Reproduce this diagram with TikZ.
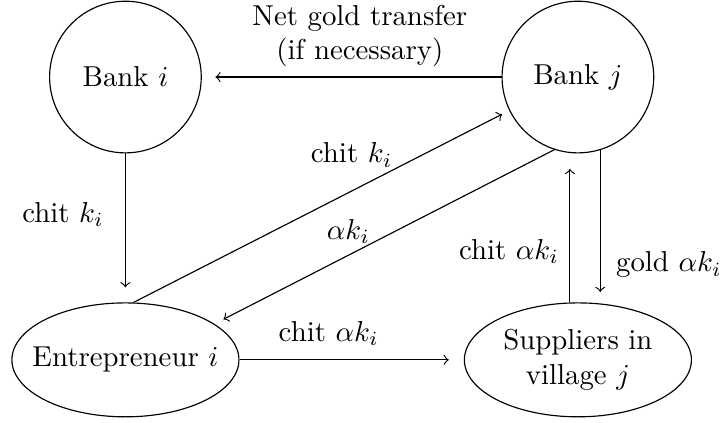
\documentclass[tikz,border=0pt]{standalone}
\usepackage{tikz}
\usetikzlibrary{shapes.geometric}

\begin{document}
\begin{tikzpicture}[bank/.style={circle,draw,minimum size=1.85cm},
                    agent/.style={ellipse,draw,align=center,inner xsep=-4.5pt,minimum width=2.77cm,minimum height=1.39cm},
                    flow/.style={->,shorten >=5pt}]
                \useasboundingbox (0,0) rectangle (8.82,5.16);
                \node[bank] (A) at (1.53,4.22) {Bank $i$};
                \node[bank] (B) at (7.05,4.22) {Bank $j$};
                \node[agent] (C) at (1.53,0.77) {Entrepreneur $i$};
                \node[agent] (D) at (7.05,0.77) {Suppliers in\\village $j$};
                \draw [flow,shorten >=4.7pt] (B) -- (A);
                \draw [flow,shorten >=5.2pt] (A) -- (C);
                \draw [flow,shorten >=5.2pt] (C) -- (D);
                \draw [flow,shorten >=2.8pt] (C.82) -- (B.206);
                \draw [flow,shorten >=3.5pt] (B.252.5) -- (C.22);
                \draw [flow,shorten >=5.5pt] (B.264.5 |- D.north) -- (B.264.5);
                \draw [flow,shorten >=3.6pt] (B.287.5) -- (B.287.5 |- D.north);
                \node[align=center] (E) at (4.39,4.72) {Net gold transfer\\(if necessary)};
                \node (F) at (0.77,2.54) {chit $k_i$};
                \node (G) at (4.29,3.27) {chit $k_i$};
                \node (H) at (4.25,2.34) {$\alpha k_i$};
                \node (I) at (4.01,1.09) {chit $\alpha k_i$};
                \node (J) at (6.21,2.09) {chit $\alpha k_i$};
                \node (K) at (8.16,1.93) {gold $\alpha k_i$};
            \end{tikzpicture}
\end{document}
